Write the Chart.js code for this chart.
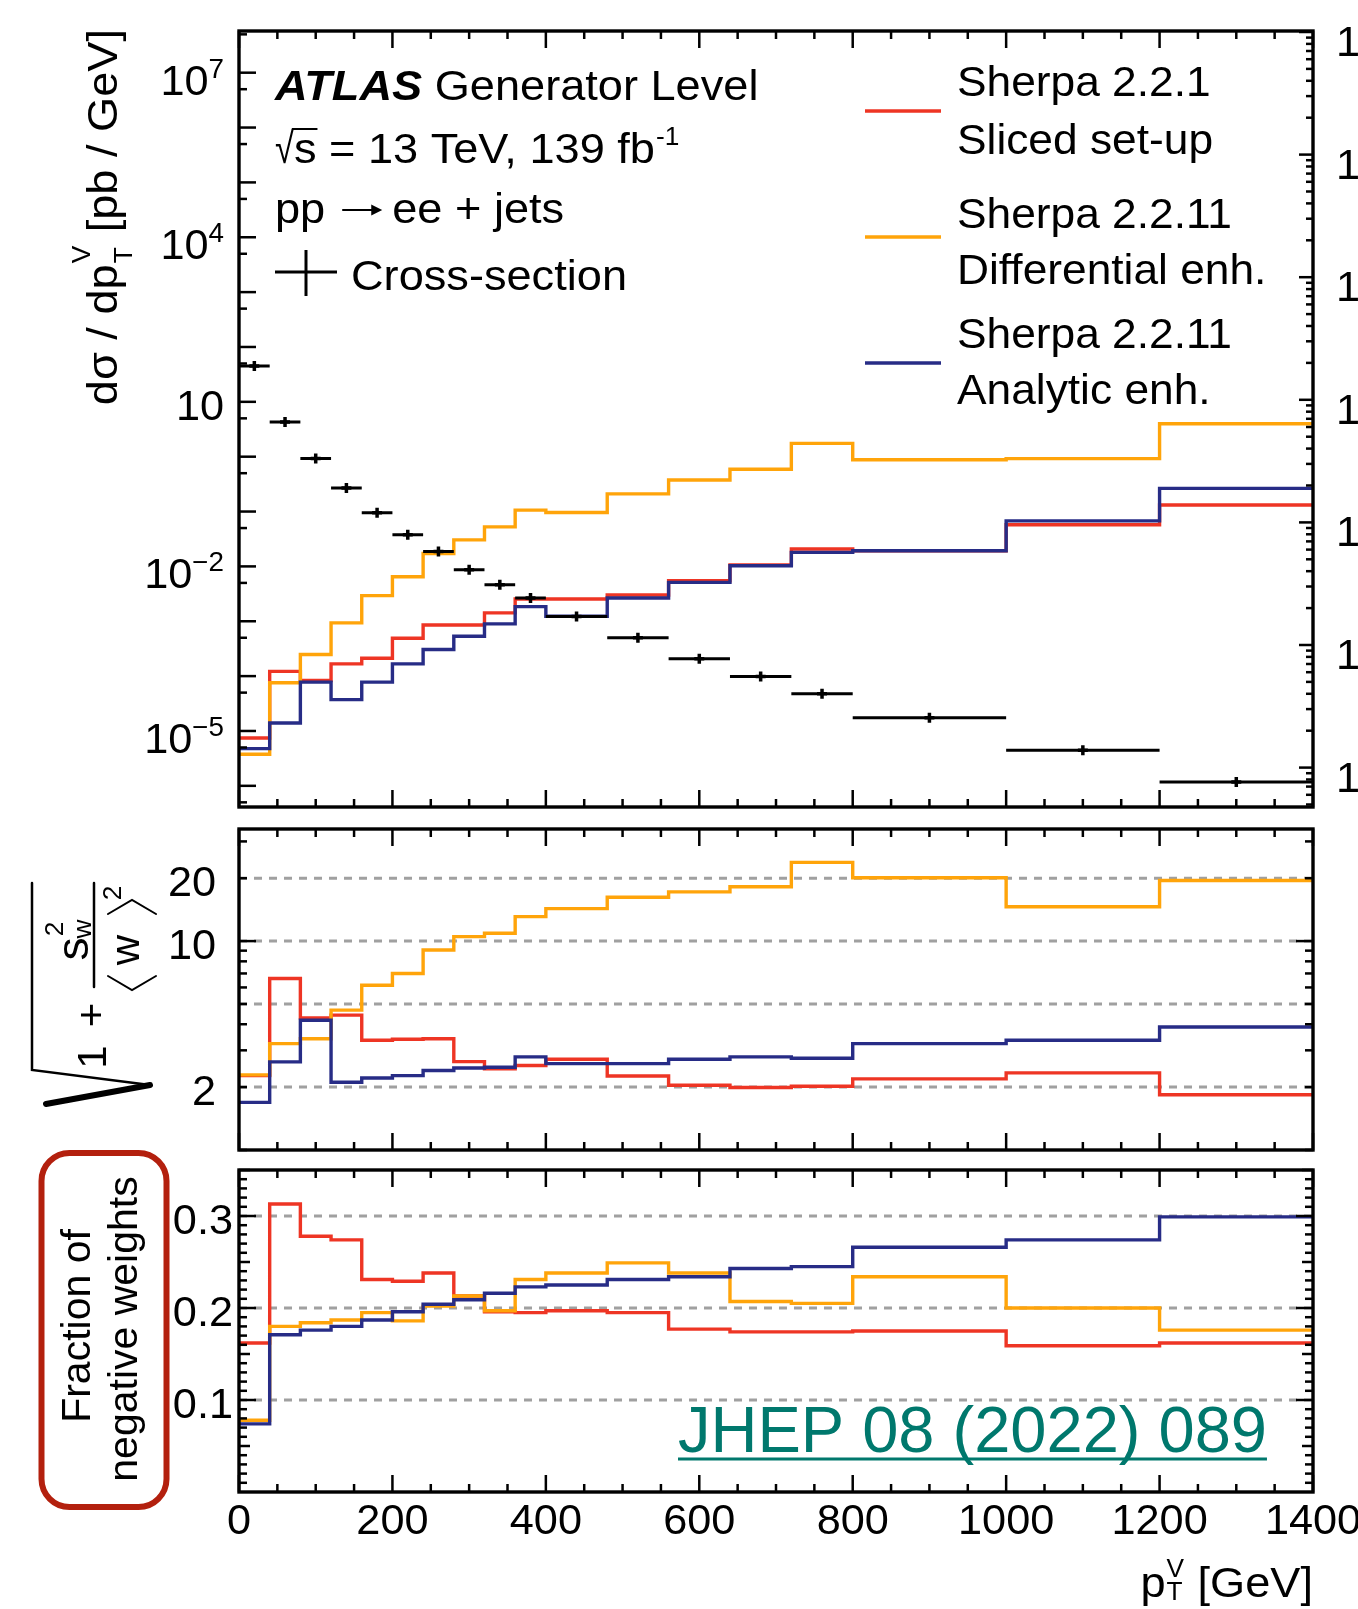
<!DOCTYPE html>
<html>
<head>
<meta charset="utf-8">
<script src="https://cdn.jsdelivr.net/npm/chart.js@4/dist/chart.umd.min.js"></script>
<style>
  html, body { margin: 0; padding: 0; background: #fff; overflow: hidden; width: 1358px; height: 1609px; }
  canvas { position: absolute; left: 0; top: 0; }
</style>
</head>
<body>
<canvas id="topChart" width="1358" height="1609"></canvas>
<canvas id="midChart" width="1358" height="1609"></canvas>
<canvas id="botChart" width="1358" height="1609"></canvas>
<script>
// ---- data ----
const binEdges = [0, 40, 80, 120, 160, 200, 240, 280, 320, 360, 400, 480, 560, 640, 720, 800, 1000, 1200, 1400];

// d sigma / d pT  [pb / GeV]
const xsecValues = [45, 4.3, 0.93, 0.27, 0.095, 0.0377, 0.0187, 0.0087, 0.00464, 0.00266, 0.00122, 0.000498, 2.07e-4, 9.86e-5, 4.78e-5, 1.75e-5, 4.45e-6, 1.18e-6];
const slicedTop = [7.46e-6, 1.22e-4, 8.3e-5, 1.67e-4, 2.12e-4, 4.91e-4, 8.57e-4, 8.57e-4, 1.42e-3, 2.55e-3, 2.55e-3, 3.01e-3, 5.48e-3, 0.0106, 0.0207, 0.0193, 0.0573, 0.132];
const differentialTop = [3.77e-6, 7.57e-5, 2.48e-4, 9.33e-4, 2.93e-3, 6.49e-3, 0.0172, 0.0305, 0.0526, 0.106, 0.096, 0.21, 0.375, 0.589, 1.75, 0.881, 0.92, 3.98];
const analyticTop = [4.77e-6, 1.40e-5, 7.78e-5, 3.72e-5, 7.78e-5, 1.67e-4, 3.05e-4, 5.34e-4, 8.95e-4, 1.85e-3, 1.23e-3, 2.66e-3, 5.12e-3, 0.0103, 0.018, 0.0193, 0.0676, 0.265];

// sqrt(1 + s_w^2 / <w>^2)
const slicedSpread = [2.27, 6.62, 4.29, 4.42, 3.35, 3.39, 3.41, 2.65, 2.45, 2.54, 2.72, 2.26, 2.04, 1.99, 2.02, 2.19, 2.34, 1.84];
const differentialSpread = [2.29, 3.23, 3.41, 4.67, 6.15, 7.0, 9.06, 10.5, 10.9, 13.1, 14.3, 16.2, 17.2, 18.2, 23.8, 20.1, 14.6, 19.5];
const analyticSpread = [1.69, 2.64, 4.18, 2.11, 2.21, 2.27, 2.40, 2.47, 2.49, 2.79, 2.59, 2.59, 2.72, 2.79, 2.75, 3.23, 3.35, 3.88];

// fraction of negative weights
const slicedNeg = [0.162, 0.313, 0.278, 0.274, 0.231, 0.229, 0.238, 0.213, 0.196, 0.195, 0.197, 0.195, 0.177, 0.174, 0.174, 0.175, 0.159, 0.162];
const differentialNeg = [0.078, 0.180, 0.184, 0.187, 0.195, 0.186, 0.202, 0.213, 0.197, 0.231, 0.238, 0.249, 0.238, 0.207, 0.205, 0.234, 0.200, 0.176];
const analyticNeg = [0.074, 0.171, 0.176, 0.180, 0.187, 0.196, 0.204, 0.209, 0.216, 0.223, 0.225, 0.231, 0.234, 0.243, 0.245, 0.266, 0.274, 0.299];

// tick labels
const xTickValues = [0, 200, 400, 600, 800, 1000, 1200, 1400];
const topTickExps = [7, 4, 1, -2, -5];
const rightEdgeExps = [0, -1, -2, -3, -4, -5, -6];
const spreadTickValues = [20, 10, 2];
const spreadTickLabels = ['20', '10', '2'];
const negTickValues = [0.3, 0.2, 0.1];
const negTickLabels = ['0.3', '0.2', '0.1'];

const seriesNames = [
  ['Sherpa 2.2.1', 'Sliced set-up'],
  ['Sherpa 2.2.11', 'Differential enh.'],
  ['Sherpa 2.2.11', 'Analytic enh.']
];

const RED = '#ee3524';
const ORANGE = '#ffa40a';
const BLUE = '#272c86';
const seriesColors = [RED, ORANGE, BLUE];

// ---- helpers ----
const FAM = '"Liberation Sans", Arial, Helvetica, sans-serif';
const TS = 42, TSX = 1.03;   // tick labels
const AS = 43, ASX = 1.05;   // titles, legend, labels

function fnt(size, weight, style) {
  return [style, weight, size + 'px', FAM].filter(Boolean).join(' ');
}
function seg(ctx, x1, y1, x2, y2) {
  ctx.beginPath(); ctx.moveTo(x1, y1); ctx.lineTo(x2, y2); ctx.stroke();
}
function wid(ctx, s, size, o) {
  o = o || {};
  ctx.font = fnt(size, o.weight, o.style);
  return ctx.measureText(s).width * (o.sx || 1);
}
function put(ctx, s, x, y, size, o) {
  o = o || {};
  const sx = o.sx || 1;
  ctx.save();
  ctx.font = fnt(size, o.weight, o.style);
  ctx.fillStyle = o.color || '#000';
  ctx.textBaseline = o.base || 'alphabetic';
  ctx.textAlign = 'left';
  const w = ctx.measureText(s).width * sx;
  let x0 = x;
  if (o.align === 'right') x0 = x - w;
  else if (o.align === 'center') x0 = x - w / 2;
  ctx.translate(x0, y);
  ctx.scale(sx, 1);
  ctx.fillText(s, 0, 0);
  ctx.restore();
  return w;
}

function stepPoints(vals) {
  return binEdges.map((e, i) => ({ x: e, y: vals[Math.min(i, vals.length - 1)] }));
}
function histo(label, vals, color, order) {
  return {
    label: label, data: stepPoints(vals), borderColor: color, backgroundColor: color,
    borderWidth: 3.4, stepped: 'before', pointRadius: 0, fill: false, order: order
  };
}

const xsecBars = [];
xsecValues.forEach((v, i) => {
  xsecBars.push({ x: binEdges[i], y: v }, { x: binEdges[i + 1], y: v }, { x: binEdges[i + 1], y: null });
});
const xsecCentres = xsecValues.map((v, i) => ({ x: (binEdges[i] + binEdges[i + 1]) / 2, y: v }));

// tick mark lists (inside ticks, root style)
function logTicks(lo, hi, majorLen, minorLen, mults) {
  const out = [];
  for (let e = lo; e <= hi; e++) {
    mults.forEach(m => out.push({ v: m * Math.pow(10, e), len: m === 1 ? majorLen : minorLen }));
  }
  return out;
}
const topLeftTicks = logTicks(-7, 8, 17, 8, [1, 5]);
const topRightTicks = logTicks(-7, 1, 14, 7, [1, 2, 3, 4, 5, 6, 7, 8, 9]);
const spreadTicks = logTicks(0, 1, 8, 8, [1, 2, 3, 4, 5, 6, 7, 8, 9]).map(t => ({ v: t.v, len: t.v === 10 ? 17 : 8 }));
const negTicks = [];
for (let k = 1; k <= 35; k++) negTicks.push({ v: k / 100, len: k % 10 === 0 ? 17 : (k % 5 === 0 ? 11 : 8) });

function inY(a, p) { return p >= a.top - 0.5 && p <= a.bottom + 0.5; }

function frameTicks(chart, leftTicks, rightTicks, rightScaleId) {
  const ctx = chart.ctx, a = chart.chartArea, xs = chart.scales.x;
  const ys = chart.scales.y, yr = rightScaleId ? chart.scales[rightScaleId] : ys;
  ctx.save();
  ctx.strokeStyle = '#000';
  ctx.lineWidth = 2.5;
  ctx.setLineDash([]);
  for (let v = 0; v <= 1400; v += 50) {
    const px = xs.getPixelForValue(v), len = v % 200 === 0 ? 17 : 8;
    seg(ctx, px, a.bottom, px, a.bottom - len);
    seg(ctx, px, a.top, px, a.top + len);
  }
  leftTicks.forEach(t => { const p = ys.getPixelForValue(t.v); if (inY(a, p)) seg(ctx, a.left, p, a.left + t.len, p); });
  rightTicks.forEach(t => { const p = yr.getPixelForValue(t.v); if (inY(a, p)) seg(ctx, a.right, p, a.right - t.len, p); });
  ctx.lineWidth = 3.4;
  ctx.strokeRect(a.left, a.top, a.right - a.left, a.bottom - a.top);
  ctx.restore();
}

function dashedLines(chart, vals) {
  const ctx = chart.ctx, a = chart.chartArea, ys = chart.scales.y;
  ctx.save();
  ctx.strokeStyle = '#a0a0a0';
  ctx.lineWidth = 3;
  ctx.setLineDash([8, 7]);
  vals.forEach(v => { const p = ys.getPixelForValue(v); seg(ctx, a.left, p, a.right, p); });
  ctx.restore();
}

function baseOptions(padTop, padBottom, yScales) {
  return {
    responsive: false, animation: false, devicePixelRatio: 1, events: [],
    layout: { padding: { left: 239, right: 45, top: padTop, bottom: padBottom } },
    plugins: { legend: { display: false }, tooltip: { enabled: false } },
    scales: Object.assign({ x: { type: 'linear', min: 0, max: 1400, display: false, bounds: 'data' } }, yScales)
  };
}

// ---- top panel ----
const topDecor = {
  id: 'topDecor',
  afterDatasetsDraw(chart) {
    frameTicks(chart, topLeftTicks, topRightTicks, 'yR');
  },
  afterDraw(chart) {
    const ctx = chart.ctx, ys = chart.scales.y, yr = chart.scales.yR;
    const o = { sx: TSX };
    // left tick labels 10^n
    topTickExps.forEach(e => {
      const p = ys.getPixelForValue(Math.pow(10, e));
      const sup = e === 1 ? '' : (e < 0 ? '\u2212' + (-e) : String(e));
      const wb = wid(ctx, '10', TS, o), ws = sup ? wid(ctx, sup, 27, o) : 0;
      const x0 = 224 - wb - ws;
      const base = p + (sup ? 7 : 3) + 15;
      put(ctx, '10', x0, base, TS, o);
      if (sup) put(ctx, sup, x0 + wb, base - 17, 27, o);
    });
    // labels of the neighbouring axis, cut by the right edge
    rightEdgeExps.forEach(e => {
      const p = yr.getPixelForValue(Math.pow(10, e));
      put(ctx, '1', 1336, p + 9 + 15, TS, o);
    });

    // y title
    const a = { sx: ASX };
    const w1 = wid(ctx, 'd\u03C3 / dp', AS, a);
    const wS = Math.max(wid(ctx, 'V', 25, a), wid(ctx, 'T', 25, a)) + 2;
    const w2 = wid(ctx, ' [pb / GeV]', AS, a);
    const total = w1 + wS + w2;
    ctx.save();
    ctx.translate(117, 29 + total);
    ctx.rotate(-Math.PI / 2);
    put(ctx, 'd\u03C3 / dp', 0, 0, AS, a);
    put(ctx, 'V', w1 + 1, -27, 25, a);
    put(ctx, 'T', w1 + 1, 15, 25, a);
    put(ctx, ' [pb / GeV]', w1 + wS, 0, AS, a);
    ctx.restore();

    // ATLAS block
    let x = 275;
    x += put(ctx, 'ATLAS', x, 100, AS, { sx: ASX, weight: 'bold', style: 'italic' });
    put(ctx, ' Generator Level', x, 100, AS, a);
    x = 275;
    const wr = put(ctx, '\u221A', x, 163, AS, { sx: 0.8 });
    const wsq = put(ctx, 's', x + wr, 163, AS, a);
    ctx.save();
    ctx.strokeStyle = '#000';
    ctx.lineWidth = 2;
    seg(ctx, x + wr - 2, 129, x + wr + wsq + 1, 129);
    ctx.restore();
    x += wr + wsq;
    x += put(ctx, ' = 13 TeV, 139 fb', x, 163, AS, a);
    put(ctx, '-1', x + 1, 145, 25, a);

    // pp -> ee + jets, with a drawn arrow
    const wpp = put(ctx, 'pp', 275, 223, AS, a);
    const ax0 = 275 + wpp + 17, ax1 = ax0 + 40, ay = 210;
    ctx.save();
    ctx.strokeStyle = '#000';
    ctx.fillStyle = '#000';
    ctx.lineWidth = 2.2;
    seg(ctx, ax0, ay, ax1 - 6, ay);
    ctx.beginPath();
    ctx.moveTo(ax1, ay); ctx.lineTo(ax1 - 11, ay - 5.5); ctx.lineTo(ax1 - 11, ay + 5.5); ctx.closePath();
    ctx.fill();
    ctx.restore();
    put(ctx, 'ee + jets', ax1 + 10, 223, AS, a);

    ctx.save();
    ctx.strokeStyle = '#000';
    ctx.lineWidth = 3;
    seg(ctx, 275, 272, 337, 272);
    seg(ctx, 306, 250, 306, 296);
    ctx.restore();
    put(ctx, 'Cross-section', 351, 290, AS, a);

    // legend
    const lineY = [111, 237, 363];
    const textY = [[96, 154], [228, 284], [348, 404]];
    seriesNames.forEach((names, i) => {
      ctx.save();
      ctx.strokeStyle = seriesColors[i];
      ctx.lineWidth = 3.4;
      seg(ctx, 865, lineY[i], 941, lineY[i]);
      ctx.restore();
      put(ctx, names[0], 957, textY[i][0], AS, { sx: 1.03 });
      put(ctx, names[1], 957, textY[i][1], AS, { sx: 1.03 });
    });
  }
};

new Chart(document.getElementById('topChart'), {
  type: 'line',
  data: {
    datasets: [
      { label: 'Cross-section', data: xsecBars, borderColor: '#000', borderWidth: 3, pointRadius: 0, spanGaps: false, order: 0 },
      { label: 'Cross-section points', data: xsecCentres, showLine: false, pointStyle: 'cross', pointRadius: 5,
        pointBorderWidth: 3.5, pointBorderColor: '#000', pointBackgroundColor: '#000', order: 0 },
      histo(seriesNames[2].join(' '), analyticTop, BLUE, 1),
      histo(seriesNames[1].join(' '), differentialTop, ORANGE, 2),
      histo(seriesNames[0].join(' '), slicedTop, RED, 3)
    ]
  },
  options: baseOptions(31, 1609 - 807, {
    y: { type: 'logarithmic', min: Math.pow(10, -6.386), max: Math.pow(10, 7.76), display: false, bounds: 'data' },
    yR: { type: 'logarithmic', position: 'right', min: Math.pow(10, -6.3214), max: Math.pow(10, 0.00816), display: false, bounds: 'data' }
  }),
  plugins: [topDecor]
});

// ---- middle panel ----
function drawSpreadTitle(ctx) {
  ctx.save();
  ctx.strokeStyle = '#000';
  ctx.lineCap = 'round';
  ctx.lineWidth = 2.5;
  ctx.beginPath(); ctx.moveTo(32, 883); ctx.lineTo(32, 1070); ctx.lineTo(150, 1085); ctx.stroke();
  ctx.lineWidth = 6;
  seg(ctx, 150, 1085, 46, 1104);
  ctx.lineWidth = 2.5;
  seg(ctx, 94, 883, 94, 987);
  ctx.lineWidth = 2;
  ctx.beginPath(); ctx.moveTo(108, 976); ctx.lineTo(132, 990); ctx.lineTo(156, 976); ctx.stroke();
  ctx.beginPath(); ctx.moveTo(108, 914); ctx.lineTo(132, 900); ctx.lineTo(156, 914); ctx.stroke();
  // glyphs in the rotated frame: u up the page from y=1070, v = page x
  ctx.translate(0, 1070);
  ctx.rotate(-Math.PI / 2);
  const a = { sx: 1.05, align: 'center' };
  put(ctx, '1', 13, 106, 40, a);
  put(ctx, '+', 55, 105, 40, a);
  put(ctx, 's', 121, 88, 44, a);
  put(ctx, 'w', 141, 91, 25, a);
  put(ctx, '2', 141, 63, 25, a);
  put(ctx, 'w', 120, 139, 40, a);
  put(ctx, '2', 177, 121, 25, a);
  ctx.restore();
}

const midDecor = {
  id: 'midDecor',
  beforeDatasetsDraw(chart) { dashedLines(chart, [2, 5, 10, 20]); },
  afterDatasetsDraw(chart) { frameTicks(chart, spreadTicks, spreadTicks, null); },
  afterDraw(chart) {
    const ctx = chart.ctx, ys = chart.scales.y;
    spreadTickValues.forEach((v, i) => {
      put(ctx, spreadTickLabels[i], 216, ys.getPixelForValue(v) + 3 + 15, TS, { sx: TSX, align: 'right' });
    });
    drawSpreadTitle(ctx);
  }
};

new Chart(document.getElementById('midChart'), {
  type: 'line',
  data: {
    datasets: [
      histo(seriesNames[2].join(' '), analyticSpread, BLUE, 1),
      histo(seriesNames[1].join(' '), differentialSpread, ORANGE, 2),
      histo(seriesNames[0].join(' '), slicedSpread, RED, 3)
    ]
  },
  options: baseOptions(829, 1609 - 1150, {
    y: { type: 'logarithmic', min: 1, max: 34.4, display: false, bounds: 'data' }
  }),
  plugins: [midDecor]
});

// ---- bottom panel ----
const botDecor = {
  id: 'botDecor',
  beforeDatasetsDraw(chart) { dashedLines(chart, [0.1, 0.2, 0.3]); },
  afterDatasetsDraw(chart) { frameTicks(chart, negTicks, negTicks, null); },
  afterDraw(chart) {
    const ctx = chart.ctx, ys = chart.scales.y, xs = chart.scales.x;
    const t = { sx: TSX, align: 'right' };
    negTickValues.forEach((v, i) => {
      put(ctx, negTickLabels[i], 233, ys.getPixelForValue(v) + 3 + 15, TS, t);
    });
    xTickValues.forEach(v => {
      put(ctx, String(v), xs.getPixelForValue(v), 1519 + 15, TS, { sx: TSX, align: 'center' });
    });

    // x title
    const a = { sx: ASX };
    const w2 = wid(ctx, ' [GeV]', AS, a);
    const wS = Math.max(wid(ctx, 'V', 25, a), wid(ctx, 'T', 25, a)) + 2;
    const w1 = wid(ctx, 'p', AS, a);
    let x = 1313 - w2 - wS - w1;
    put(ctx, 'p', x, 1597, AS, a);
    x += w1;
    put(ctx, 'V', x + 1, 1577, 25, a);
    put(ctx, 'T', x + 1, 1600, 25, a);
    put(ctx, ' [GeV]', x + wS, 1597, AS, a);

    // highlighted y title
    ctx.save();
    ctx.strokeStyle = '#b3200e';
    ctx.lineWidth = 6;
    ctx.beginPath();
    ctx.roundRect(41.5, 1153, 125, 354, 28);
    ctx.stroke();
    ctx.restore();
    ctx.save();
    ctx.translate(90, 1326);
    ctx.rotate(-Math.PI / 2);
    put(ctx, 'Fraction of', 0, 0, 41, { align: 'center' });
    ctx.restore();
    ctx.save();
    ctx.translate(137, 1329);
    ctx.rotate(-Math.PI / 2);
    put(ctx, 'negative weights', 0, 0, 41, { align: 'center' });
    ctx.restore();

    // reference link
    const teal = '#00786d';
    const wj = put(ctx, 'JHEP 08 (2022) 089', 678, 1452, 65, { color: teal });
    ctx.save();
    ctx.strokeStyle = teal;
    ctx.lineWidth = 3;
    seg(ctx, 678, 1459, 678 + wj, 1459);
    ctx.restore();
  }
};

new Chart(document.getElementById('botChart'), {
  type: 'line',
  data: {
    datasets: [
      histo(seriesNames[2].join(' '), analyticNeg, BLUE, 1),
      histo(seriesNames[1].join(' '), differentialNeg, ORANGE, 2),
      histo(seriesNames[0].join(' '), slicedNeg, RED, 3)
    ]
  },
  options: baseOptions(1170, 1609 - 1492, {
    y: { type: 'linear', min: 0, max: 0.35, display: false, bounds: 'data' }
  }),
  plugins: [botDecor]
});
</script>
</body>
</html>
